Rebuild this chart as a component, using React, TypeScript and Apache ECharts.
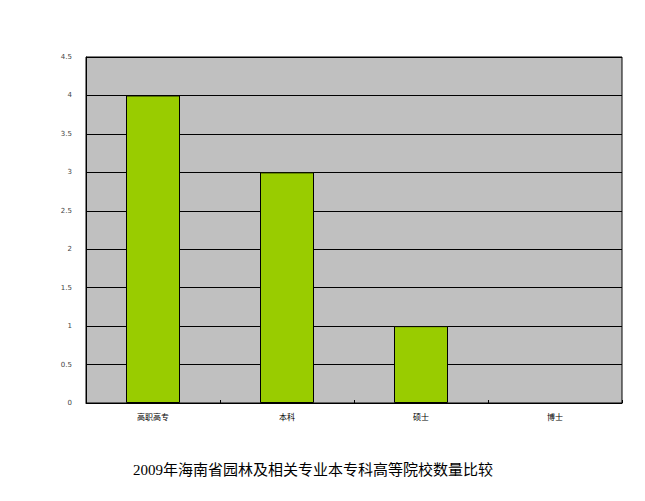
import React, { useEffect, useRef } from "react";
import * as echarts from "echarts";

const categories = ["高职高专", "本科", "硕士", "博士"];
const counts = [4, 3, 1, 0];
const yTicks = [0, 0.5, 1, 1.5, 2, 2.5, 3, 3.5, 4, 4.5];
const titleText = "2009年海南省园林及相关专业本专科高等院校数量比较";

export default function App() {
  const ref = useRef<HTMLDivElement>(null);

  useEffect(() => {
    if (!ref.current) return;
    const chart = echarts.init(ref.current, undefined, { renderer: "svg" });
    chart.setOption({
      animation: false,
      backgroundColor: "#ffffff",
      title: {
        text: titleText,
        left: 128,
        top: 457,
        textStyle: {
          fontFamily: "'Liberation Serif', 'Noto Sans CJK SC', serif",
          fontSize: 15,
          fontWeight: "normal",
          color: "#000",
        },
      },
      grid: {
        left: 86,
        top: 57,
        width: 536,
        height: 346,
        show: true,
        backgroundColor: "#c0c0c0",
        borderColor: "#000",
        borderWidth: 1,
      },
      xAxis: {
        type: "category",
        data: categories,
        axisLine: { lineStyle: { color: "#000", width: 1 } },
        axisTick: { show: true, inside: true, length: 3, lineStyle: { color: "#000" } },
        axisLabel: {
          fontFamily: "'Noto Sans CJK SC', sans-serif",
          fontSize: 8,
          color: "#000",
          margin: 9,
        },
      },
      yAxis: {
        type: "value",
        min: 0,
        max: yTicks[yTicks.length - 1],
        interval: 0.5,
        axisLine: { show: true, lineStyle: { color: "#000", width: 1 } },
        axisTick: { show: false },
        axisLabel: {
          fontFamily: "'DejaVu Sans', sans-serif",
          fontSize: 7,
          color: "#444",
          margin: 14,
          formatter: (v: number) => String(v),
        },
        splitLine: { show: true, lineStyle: { color: "#000", width: 1 } },
      },
      series: [
        {
          type: "bar",
          data: counts.map((v) => ({
            value: v,
            itemStyle: v === 0 ? { borderWidth: 0 } : undefined,
          })),
          barWidth: 54,
          itemStyle: {
            color: "#99cc00",
            borderColor: "#000",
            borderWidth: 1,
          },
        },
      ],
    });
    return () => chart.dispose();
  }, []);

  return (
    <div
      ref={ref}
      style={{ position: "fixed", left: 0, top: 0, width: 645, height: 501 }}
    />
  );
}
